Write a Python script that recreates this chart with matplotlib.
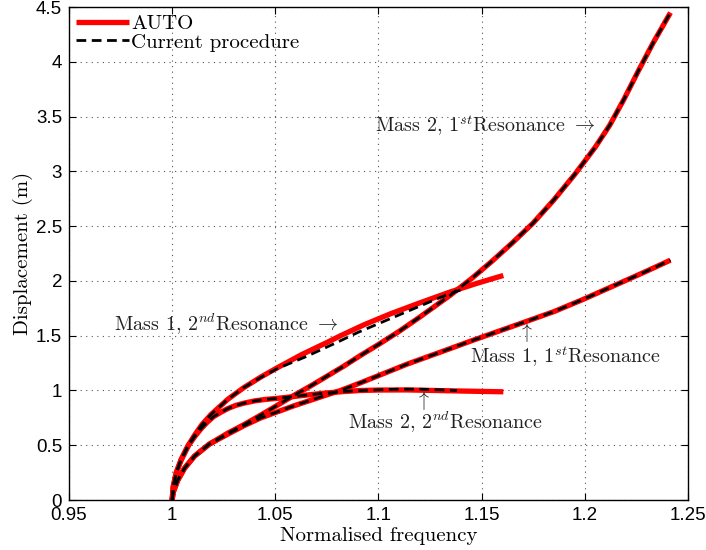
import matplotlib
matplotlib.use("Agg")
import matplotlib.pyplot as plt

# Mass 1, 2nd resonance
m1r2_x = [1.0, 1.0005, 1.002, 1.0043, 1.0075, 1.0108, 1.0145, 1.0188, 1.027, 1.0348, 1.043, 1.051, 1.063, 1.0752,
          1.0816, 1.093, 1.1058, 1.12, 1.1348, 1.148, 1.1605]
m1r2_y = [0.0, 0.12, 0.25, 0.37, 0.49, 0.59, 0.69, 0.78, 0.92, 1.027, 1.123, 1.208, 1.33, 1.44,
          1.50, 1.60, 1.70, 1.80, 1.90, 1.98, 2.05]
m1r2_cx = [1.0, 1.0005, 1.002, 1.0043, 1.0075, 1.0108, 1.0145, 1.0188, 1.027, 1.0348, 1.043, 1.051, 1.065, 1.08,
           1.09, 1.10, 1.11, 1.12, 1.13, 1.14]
m1r2_cy = [0.0, 0.12, 0.25, 0.37, 0.49, 0.59, 0.69, 0.78, 0.92, 1.027, 1.12, 1.20, 1.31, 1.44,
           1.53, 1.61, 1.69, 1.77, 1.85, 1.92]

# Mass 2, 2nd resonance
m2r2_x = [1.0, 1.0005, 1.002, 1.0043, 1.008, 1.011, 1.014, 1.017, 1.02, 1.0235, 1.027, 1.031, 1.035, 1.04, 1.045,
          1.052, 1.059, 1.067, 1.075, 1.083, 1.0913, 1.1, 1.1138, 1.127, 1.14, 1.1605]
m2r2_y = [0.0, 0.12, 0.25, 0.36, 0.50, 0.58, 0.65, 0.71, 0.76, 0.80, 0.835, 0.865, 0.885, 0.905, 0.918,
          0.93, 0.945, 0.962, 0.978, 0.99, 1.0, 1.004, 1.005, 1.0, 0.995, 0.988]
m2r2_cx = [1.0, 1.0005, 1.002, 1.0043, 1.008, 1.011, 1.014, 1.017, 1.02, 1.0235, 1.027, 1.031, 1.035, 1.04, 1.045,
           1.052, 1.059, 1.067, 1.075, 1.083, 1.0913, 1.1, 1.11, 1.12, 1.13, 1.138]
m2r2_cy = [0.0, 0.12, 0.25, 0.36, 0.50, 0.58, 0.65, 0.71, 0.76, 0.80, 0.835, 0.865, 0.885, 0.905, 0.918,
           0.93, 0.945, 0.962, 0.978, 0.99, 1.0, 1.006, 1.012, 1.012, 1.006, 1.0]

# Mass 2, 1st resonance
m2r1_x = [1.0, 1.0005, 1.0027, 1.006, 1.0108, 1.018, 1.0269, 1.035, 1.043, 1.051, 1.059, 1.067, 1.075, 1.083,
          1.0913, 1.1, 1.11, 1.12, 1.1348, 1.145, 1.155, 1.165, 1.175, 1.185, 1.195, 1.205, 1.212, 1.219,
          1.226, 1.233, 1.2415]
m2r1_y = [0.0, 0.07, 0.18, 0.29, 0.40, 0.51, 0.61, 0.69, 0.776, 0.865, 0.955, 1.04, 1.13, 1.22,
          1.32, 1.42, 1.54, 1.67, 1.87, 2.02, 2.18, 2.35, 2.53, 2.74, 2.97, 3.22, 3.42, 3.66,
          3.92, 4.17, 4.45]

# Mass 1, 1st resonance
m1r1_x = [1.0, 1.0005, 1.0027, 1.006, 1.0108, 1.018, 1.0269, 1.035, 1.043, 1.051, 1.059, 1.067, 1.075, 1.0816,
          1.0913, 1.1138, 1.13, 1.146, 1.1686, 1.185, 1.199, 1.2169, 1.23, 1.2415]
m1r1_y = [0.0, 0.07, 0.18, 0.29, 0.40, 0.51, 0.60, 0.68, 0.75, 0.805, 0.86, 0.91, 0.96, 1.0,
          1.07, 1.24, 1.35, 1.46, 1.61, 1.72, 1.83, 1.98, 2.09, 2.19]

plt.rcParams['mathtext.fontset'] = 'cm'
serif = 'cmr10'

fig = plt.figure(figsize=(7.06, 5.5), dpi=100)
ax = fig.add_axes([0.0977, 0.0909, 0.8768, 0.8961])

red_kw = dict(color='red', lw=3.8, solid_capstyle='butt', solid_joinstyle='round')
blk_kw = dict(color='black', lw=2.0, linestyle=(0, (3.5, 2)))

ax.plot(m1r2_x, m1r2_y, label='AUTO', **red_kw)
ax.plot(m2r2_x, m2r2_y, **red_kw)
ax.plot(m2r1_x, m2r1_y, **red_kw)
ax.plot(m1r1_x, m1r1_y, **red_kw)
ax.plot(m1r2_cx, m1r2_cy, label='Current procedure', **blk_kw)
ax.plot(m2r2_cx, m2r2_cy, **blk_kw)
ax.plot(m2r1_x, m2r1_y, **blk_kw)
ax.plot(m1r1_x, m1r1_y, **blk_kw)

ax.set_xlim(0.95, 1.25)
ax.set_ylim(0, 4.5)
ax.set_xticks([0.95, 1, 1.05, 1.1, 1.15, 1.2, 1.25])
ax.set_xticklabels(['0.95', '1', '1.05', '1.1', '1.15', '1.2', '1.25'])
ax.set_yticks([0, 0.5, 1, 1.5, 2, 2.5, 3, 3.5, 4, 4.5])
ax.set_yticklabels(['0', '0.5', '1', '1.5', '2', '2.5', '3', '3.5', '4', '4.5'])
ax.tick_params(direction='in', top=True, right=True, length=5, labelsize=13.5)
ax.tick_params(axis='x', pad=5)
ax.tick_params(axis='y', pad=5)
for t in ax.get_xticklabels() + ax.get_yticklabels():
    t.set_fontfamily('Liberation Sans')
ax.grid(True, linestyle=(0, (1, 4)), color='#555555', lw=0.8)
for s in ax.spines.values():
    s.set_linewidth(1.0)

ax.set_xlabel('Normalised frequency', fontfamily=serif, fontsize=15, labelpad=2)
ax.set_ylabel('Displacement (m)', fontfamily=serif, fontsize=15, labelpad=2)

tkw = dict(fontfamily=serif, fontsize=14.5, color='#222222')
ax.text(1.2053, 3.42, r'Mass 2, 1$^{st}$Resonance $\rightarrow$', ha='right', va='center', **tkw)
ax.text(1.0807, 1.60, r'Mass 1, 2$^{nd}$Resonance $\rightarrow$', ha='right', va='center', **tkw)
ax.text(1.1715, 1.53, r'$\uparrow$', ha='center', va='center', **tkw)
ax.text(1.1908, 1.305, r'Mass 1, 1$^{st}$Resonance', ha='center', va='center', **tkw)
ax.text(1.1213, 0.91, r'$\uparrow$', ha='center', va='center', **tkw)
ax.text(1.1324, 0.71, r'Mass 2, 2$^{nd}$Resonance', ha='center', va='center', **tkw)

ax.legend(loc='upper left', frameon=False, prop={'family': serif, 'size': 15},
          handlelength=2.55, handletextpad=0.1, labelspacing=0.0, borderaxespad=0.15, borderpad=0.2)

fig.savefig('out.png', dpi=100)
